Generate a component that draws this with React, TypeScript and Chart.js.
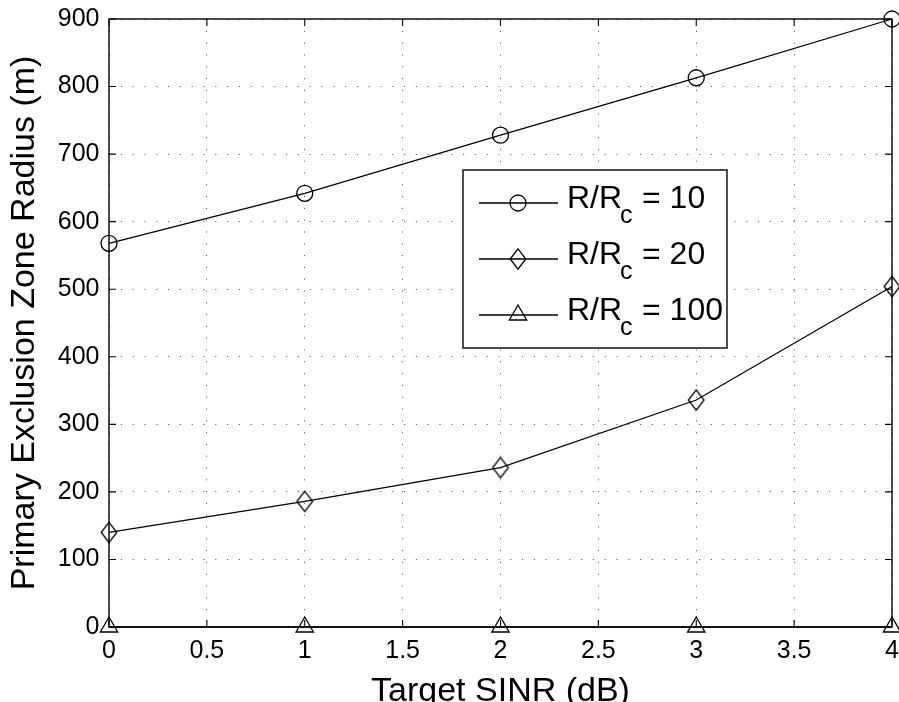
import React, { useEffect, useRef } from 'react';
import { Chart, registerables } from 'chart.js';

Chart.register(...registerables);

// ---- data ----
const sinrDb = [0, 1, 2, 3, 4];
const radiusRatio10 = [568, 642, 728, 813, 900];
const radiusRatio20 = [140, 186, 236, 336, 504];
const radiusRatio100 = [0, 0, 0, 0, 0];
const legendValues = ['10', '20', '100'];
const xTitle = 'Target SINR (dB)';
const yTitle = 'Primary Exclusion Zone Radius (m)';
const xTickStep = 0.5;
const yTickStep = 100;

const FONT = '"Liberation Sans", Arial, Helvetica, sans-serif';

function makeDiamond(): HTMLCanvasElement {
  const c = document.createElement('canvas');
  c.width = 20;
  c.height = 24;
  const g = c.getContext('2d')!;
  g.strokeStyle = '#000';
  g.lineWidth = 1.3;
  g.beginPath();
  g.moveTo(10, 12 - 10.2);
  g.lineTo(10 + 7.8, 12);
  g.lineTo(10, 12 + 10.2);
  g.lineTo(10 - 7.8, 12);
  g.closePath();
  g.stroke();
  return c;
}

const framePlugin = {
  id: 'matlabFrame',
  afterDatasetsDraw(chart: any) {
    const { ctx, chartArea: a, scales } = chart;
    ctx.save();
    ctx.strokeStyle = '#000';
    ctx.lineWidth = 1.4;
    ctx.setLineDash([]);
    ctx.strokeRect(a.left, a.top, a.right - a.left, a.bottom - a.top);
    const tl = 7;
    ctx.lineWidth = 1.1;
    ctx.beginPath();
    scales.y.ticks.forEach((t: any) => {
      const py = scales.y.getPixelForValue(t.value);
      ctx.moveTo(a.left, py);
      ctx.lineTo(a.left + tl, py);
      ctx.moveTo(a.right, py);
      ctx.lineTo(a.right - tl, py);
    });
    scales.x.ticks.forEach((t: any) => {
      const px = scales.x.getPixelForValue(t.value);
      ctx.moveTo(px, a.bottom);
      ctx.lineTo(px, a.bottom - tl);
      ctx.moveTo(px, a.top);
      ctx.lineTo(px, a.top + tl);
    });
    ctx.stroke();
    ctx.restore();
  },
};

const legendPlugin = {
  id: 'matlabLegend',
  afterDraw(chart: any) {
    const { ctx, chartArea: a } = chart;
    const diamond = (chart as any).$diamond as HTMLCanvasElement;
    const bx = a.left + 354;
    const by = a.top + 151;
    const bw = 264;
    const bh = 178;
    ctx.save();
    ctx.fillStyle = '#fff';
    ctx.fillRect(bx, by, bw, bh);
    ctx.strokeStyle = '#000';
    ctx.lineWidth = 1.4;
    ctx.setLineDash([]);
    ctx.strokeRect(bx, by, bw, bh);

    const rowY = [by + 33, by + 89, by + 145];
    legendValues.forEach((v, i) => {
      const y = rowY[i];
      ctx.strokeStyle = '#000';
      ctx.lineWidth = 1.3;
      ctx.beginPath();
      ctx.moveTo(bx + 16, y);
      ctx.lineTo(bx + 95, y);
      ctx.stroke();
      const mx = bx + 55;
      if (i === 0) {
        ctx.beginPath();
        ctx.arc(mx, y, 8, 0, Math.PI * 2);
        ctx.stroke();
      } else if (i === 1) {
        if (diamond) ctx.drawImage(diamond, mx - diamond.width / 2, y - diamond.height / 2);
      } else {
        const r = 10;
        ctx.beginPath();
        ctx.moveTo(mx, y - r);
        ctx.lineTo(mx + r * 0.866, y + r / 2);
        ctx.lineTo(mx - r * 0.866, y + r / 2);
        ctx.closePath();
        ctx.stroke();
      }
      ctx.fillStyle = '#000';
      ctx.textBaseline = 'alphabetic';
      ctx.textAlign = 'left';
      const base = y + 5;
      ctx.font = `32px ${FONT}`;
      ctx.fillText('R/R', bx + 104, base);
      ctx.font = `25px ${FONT}`;
      ctx.fillText('c', bx + 157, base + 15);
      ctx.font = `32px ${FONT}`;
      ctx.fillText('= ' + v, bx + 179, base);
    });
    ctx.restore();
  },
};

export default function App() {
  const ref = useRef<HTMLCanvasElement>(null);

  useEffect(() => {
    const canvas = ref.current;
    if (!canvas) return;
    const diamond = makeDiamond();
    const toPts = (ys: number[]) => sinrDb.map((x, i) => ({ x, y: ys[i] }));
    const common = {
      borderColor: '#000',
      borderWidth: 1.3,
      pointBorderColor: '#000',
      pointBackgroundColor: 'rgba(0,0,0,0)',
      pointBorderWidth: 1.3,
      tension: 0,
      clip: false as const,
    };
    const chart = new Chart(canvas, {
      type: 'line',
      data: {
        datasets: [
          { ...common, label: 'R/Rc = 10', data: toPts(radiusRatio10), pointStyle: 'circle', pointRadius: 8 },
          { ...common, label: 'R/Rc = 20', data: toPts(radiusRatio20), pointStyle: diamond as any, pointRadius: 10 },
          { ...common, label: 'R/Rc = 100', data: toPts(radiusRatio100), pointStyle: 'triangle', pointRadius: 10 },
        ],
      },
      options: {
        animation: false,
        responsive: true,
        maintainAspectRatio: false,
        layout: { autoPadding: false, padding: { left: 0, right: 7, top: 19, bottom: 0 } },
        plugins: { legend: { display: false }, tooltip: { enabled: false } },
        scales: {
          x: {
            type: 'linear',
            min: 0,
            max: 4,
            ticks: {
              stepSize: xTickStep,
              padding: 0,
              color: '#000',
              font: { family: FONT, size: 25 },
              callback: (v: any) => String(Number(v)),
            },
            grid: { color: 'rgba(0,0,0,0.6)', lineWidth: 1, drawTicks: true, tickLength: 9, tickColor: 'rgba(0,0,0,0)' },
            border: { display: false, dash: [1.2, 10.6] },
            title: {
              display: true,
              text: xTitle,
              color: '#000',
              font: { family: FONT, size: 34, lineHeight: 0.6 },
              padding: { top: 3, bottom: 0 },
            },
            afterFit: (s: any) => {
              s.height = 75;
              s.paddingLeft = 0;
              s.paddingRight = 0;
            },
          },
          y: {
            type: 'linear',
            min: 0,
            max: 900,
            ticks: {
              stepSize: yTickStep,
              padding: 0,
              color: '#000',
              font: { family: FONT, size: 25 },
              callback: (v: any) => String(Number(v)),
            },
            grid: { color: 'rgba(0,0,0,0.6)', lineWidth: 1, drawTicks: true, tickLength: 9.5, tickColor: 'rgba(0,0,0,0)' },
            border: { display: false, dash: [1.2, 10.6] },
            title: {
              display: true,
              text: yTitle,
              color: '#000',
              font: { family: FONT, size: 34, lineHeight: 1 },
              padding: { top: 8, bottom: 0 },
            },
            afterFit: (s: any) => {
              s.width = 109;
              s.paddingTop = 0;
              s.paddingBottom = 0;
            },
          },
        },
      },
      plugins: [framePlugin, legendPlugin],
    });
    (chart as any).$diamond = diamond;
    chart.draw();
    return () => chart.destroy();
  }, []);

  return (
    <div style={{ position: 'absolute', left: 0, top: 0, width: 899, height: 702, background: '#fff' }}>
      <canvas ref={ref} />
    </div>
  );
}
